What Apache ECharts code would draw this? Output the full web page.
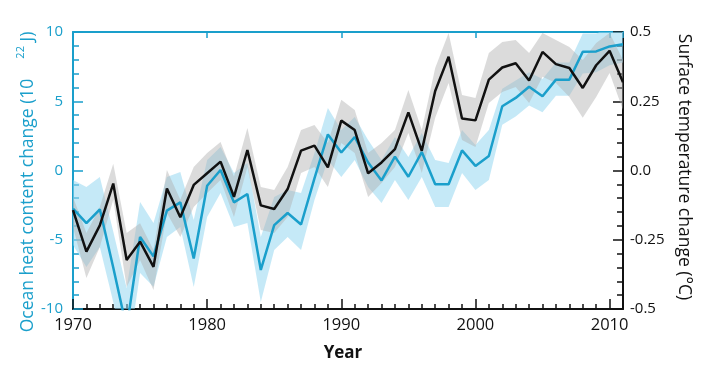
<!DOCTYPE html>
<html>
<head>
<meta charset="utf-8">
<script src="https://cdn.jsdelivr.net/npm/echarts@6/dist/echarts.min.js"></script>
<style>
html,body{margin:0;padding:0;background:#fff;}
#chart{width:711px;height:368px;}
</style>
</head>
<body>
<div id="chart"></div>
<script>
// ---- data ----
const years = [1970,1971,1972,1973,1974,1975,1976,1977,1978,1979,1980,1981,1982,1983,1984,1985,1986,1987,1988,1989,1990,1991,1992,1993,1994,1995,1996,1997,1998,1999,2000,2001,2002,2003,2004,2005,2006,2007,2008,2009,2010,2011];
// Ocean heat content change (10^22 J)
const ohc = [-2.75,-3.8,-2.8,-7.0,-11.4,-4.8,-6.2,-2.9,-2.3,-6.35,-1.1,0.04,-2.3,-1.7,-7.18,-3.94,-3.07,-3.9,-0.57,2.6,1.3,2.42,0.58,-0.72,1.0,-0.45,1.33,-0.99,-0.99,1.45,0.33,1.05,4.64,5.24,6.05,5.36,6.56,6.56,8.58,8.6,8.96,9.11];
const ohcUpper = [-0.69,-1.19,-0.47,-4.4,-8.5,-2.27,-3.79,-0.47,-0.11,-3.57,0.76,1.7,-0.18,0.54,-4.8,-1.91,-1.41,-1.62,1.26,4.51,2.92,3.86,2.2,0.76,2.42,0.97,2.71,0.76,0.54,2.92,1.84,2.92,5.9,6.5,7.1,6.6,7.8,7.8,9.9,9.9,10.3,10.4];
const ohcLower = [-5.38,-6.97,-5.52,-9.5,-14,-7.4,-8.4,-4.8,-4.08,-8.41,-3.36,-1.62,-4.08,-3.79,-9.5,-5.74,-4.8,-5.74,-2.13,0.76,-0.47,0.76,-1.19,-2.35,-0.69,-2.13,-0.47,-2.64,-2.64,-0.18,-1.41,-0.69,3.3,3.9,4.7,4.2,5.4,5.4,7.0,7.1,7.6,7.8];
// Surface temperature change (°C)
const temp = [-0.143,-0.293,-0.198,-0.047,-0.323,-0.257,-0.348,-0.065,-0.169,-0.052,-0.01,0.032,-0.095,0.074,-0.126,-0.139,-0.067,0.072,0.09,0.011,0.18,0.146,-0.01,0.029,0.077,0.21,0.071,0.287,0.411,0.188,0.181,0.328,0.372,0.387,0.325,0.428,0.384,0.37,0.298,0.38,0.432,0.319];
const tempUpper = [-0.096,-0.226,-0.132,0.024,-0.226,-0.19,-0.287,0.002,-0.106,0.013,0.063,0.103,-0.023,0.153,-0.06,-0.07,0.013,0.146,0.164,0.099,0.255,0.218,0.063,0.099,0.146,0.291,0.146,0.37,0.496,0.273,0.262,0.424,0.464,0.471,0.424,0.496,0.471,0.446,0.399,0.46,0.496,0.399];
const tempLower = [-0.204,-0.388,-0.276,-0.106,-0.421,-0.323,-0.431,-0.153,-0.24,-0.132,-0.081,-0.034,-0.168,0.013,-0.215,-0.226,-0.168,-0.009,0.013,-0.06,0.099,0.063,-0.096,-0.045,0.013,0.135,-0.009,0.19,0.316,0.11,0.085,0.244,0.283,0.301,0.244,0.338,0.316,0.265,0.19,0.265,0.352,0.218];
// tick labels
const xTickLabels = ['1970','1980','1990','2000','2010'];
const leftTickLabels = ['-10','-5','0','5','10'];
const rightTickLabels = ['-0.5','-0.25','0.0','0.25','0.5'];

const BLUE = '#1a9fcb';
const FONT = 'Open Sans';

const pairs = (arr) => years.map((y, i) => [y, arr[i]]);
const triples = (lo, up) => years.map((y, i) => [y, lo[i], up[i]]);

function bandSeries(yAxisIndex, lo, up, fill, z) {
  return {
    type: 'custom', xAxisIndex: 0, yAxisIndex: yAxisIndex, silent: true, clip: true, z: z,
    data: triples(lo, up),
    encode: {x: 0, y: [1, 2]},
    renderItem: function (params, api) {
      if (params.dataIndex !== 0) return null;
      const top = [], bot = [];
      for (let i = 0; i < years.length; i++) {
        top.push(api.coord([years[i], up[i]]));
        bot.push(api.coord([years[i], lo[i]]));
      }
      return {type: 'polygon', shape: {points: top.concat(bot.reverse())}, style: {fill: fill}};
    }
  };
}

const chart = echarts.init(document.getElementById('chart'), null, {renderer: 'canvas'});
chart.setOption({
  animation: false,
  backgroundColor: '#fff',
  grid: {left: 73, right: 88, top: 32, bottom: 59},
  xAxis: [
    {type: 'value', position: 'bottom', min: 1970, max: 2011, interval: 1,
     axisLine: {show: true, onZero: false, lineStyle: {color: '#111', width: 2}},
     axisTick: {show: true, inside: true, length: 5, lineStyle: {color: '#111', width: 1.5}},
     axisLabel: {show: false}, splitLine: {show: false}},
    {type: 'value', position: 'bottom', min: 1970, max: 2011, interval: 10,
     axisLine: {show: false, onZero: false},
     axisTick: {show: true, inside: true, length: 10, lineStyle: {color: '#111', width: 1.5}},
     axisLabel: {show: true, margin: 8, color: '#111', fontFamily: FONT, fontSize: 16.5, showMaxLabel: false,
       formatter: (v) => { const i = xTickLabels.indexOf(String(v)); return i >= 0 ? xTickLabels[i] : ''; }},
     splitLine: {show: false}},
    {type: 'value', position: 'top', min: 1970, max: 2011, interval: 10,
     axisLine: {show: true, onZero: false, lineStyle: {color: BLUE, width: 2}},
     axisTick: {show: true, inside: true, length: 6, lineStyle: {color: BLUE, width: 1.5}},
     axisLabel: {show: false}, splitLine: {show: false}}
  ],
  yAxis: [
    {type: 'value', position: 'left', min: -10, max: 10, interval: 5,
     axisLine: {show: true, onZero: false, lineStyle: {color: BLUE, width: 2}},
     axisTick: {show: true, inside: true, length: 10, lineStyle: {color: BLUE, width: 1.5}},
     minorTick: {show: true, splitNumber: 5, length: 6, lineStyle: {color: BLUE, width: 1.5}},
     axisLabel: {show: true, margin: 10, color: BLUE, fontFamily: FONT, fontSize: 15,
       formatter: (v) => leftTickLabels[Math.round((v + 10) / 5)]},
     splitLine: {show: false}, minorSplitLine: {show: false}},
    {type: 'value', position: 'right', min: -0.5, max: 0.5, interval: 0.25,
     axisLine: {show: true, onZero: false, lineStyle: {color: '#111', width: 2}},
     axisTick: {show: true, inside: true, length: 10, lineStyle: {color: '#111', width: 1.5}},
     minorTick: {show: true, splitNumber: 5, length: 6, lineStyle: {color: '#111', width: 1.5}},
     axisLabel: {show: true, margin: 7, color: '#111', fontFamily: FONT, fontSize: 15,
       formatter: (v) => rightTickLabels[Math.round((v + 0.5) / 0.25)]},
     splitLine: {show: false}, minorSplitLine: {show: false}}
  ],
  series: [
    bandSeries(0, ohcLower, ohcUpper, 'rgba(150,215,240,0.55)', 1),
    bandSeries(1, tempLower, tempUpper, 'rgba(175,175,175,0.45)', 2),
    {type: 'line', xAxisIndex: 0, yAxisIndex: 0, data: pairs(ohc), symbol: 'none',
     lineStyle: {color: BLUE, width: 2.5}, z: 3},
    {type: 'line', xAxisIndex: 0, yAxisIndex: 1, data: pairs(temp), symbol: 'none',
     lineStyle: {color: '#111', width: 2.5}, z: 4}
  ],
  graphic: [
    {type: 'text', x: 26, y: 182, rotation: Math.PI / 2,
     style: {text: '{m|Ocean heat content change (10}{s|22}{m| J)}', align: 'center', verticalAlign: 'middle',
       rich: {m: {fontFamily: FONT, fontSize: 17.5, fill: BLUE, lineHeight: 22, verticalAlign: 'bottom'},
              s: {fontFamily: FONT, fontSize: 11, fill: BLUE, verticalAlign: 'top', padding: [0, 0, 0, 20]}}}},
    {type: 'text', x: 684, y: 167, rotation: -Math.PI / 2,
     style: {text: 'Surface temperature change (°C)', align: 'center', verticalAlign: 'middle',
       font: '17.5px "Open Sans"', fill: '#111'}},
    {type: 'text', x: 343, y: 353,
     style: {text: 'Year', align: 'center', verticalAlign: 'middle',
       font: 'bold 17px "Open Sans"', fill: '#111'}}
  ]
});
</script>
</body>
</html>
